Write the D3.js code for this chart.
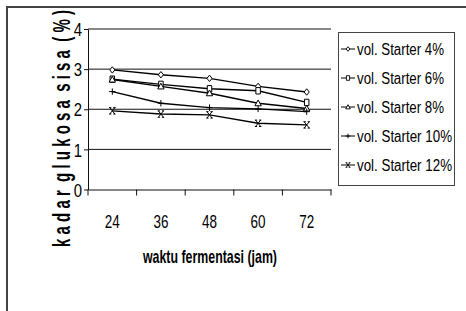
<!DOCTYPE html>
<html><head><meta charset="utf-8">
<script src="https://cdnjs.cloudflare.com/ajax/libs/d3/7.8.5/d3.min.js"></script>
<style>body{margin:0;background:#fff}svg{display:block}text{font-family:"Liberation Sans",Arial,sans-serif;fill:#000}</style>
</head><body><svg id="c" width="466" height="311"></svg>
<script>
const categories = ["24","36","48","60","72"];
const seriesNames = ["vol. Starter 4%","vol. Starter 6%","vol. Starter 8%","vol. Starter 10%","vol. Starter 12%"];
const s4  = [2.98, 2.86, 2.77, 2.57, 2.43];
const s6  = [2.75, 2.62, 2.51, 2.46, 2.17];
const s8  = [2.74, 2.57, 2.40, 2.15, 2.02];
const s10 = [2.44, 2.15, 2.04, 2.01, 1.94];
const s12 = [1.96, 1.88, 1.86, 1.65, 1.61];
const yTicks = [0,1,2,3,4];
const markers = ["diamond","square","triangle","plus","cross"];
const allSeries = [s4, s6, s8, s10, s12];

const svg = d3.select("#c");
// outer frame
svg.append("rect").attr("x",7).attr("y",7).attr("width",480).attr("height",330)
  .attr("fill","none").attr("stroke","#444").attr("stroke-width",2);

const x = d3.scaleBand().domain(categories).range([88,331]);
const y = d3.scaleLinear().domain([0,4]).range([189.5,29]);

// gridlines
svg.append("g").selectAll("line").data(yTicks.filter(d=>d>0)).join("line")
  .attr("x1",88).attr("x2",331).attr("y1",d=>y(d)).attr("y2",d=>y(d))
  .attr("stroke","#111").attr("stroke-width",1);

// y axis
const ya = svg.append("g").attr("transform","translate(88,0)")
  .call(d3.axisLeft(y).tickValues(yTicks).tickFormat(d3.format("d")).tickSize(4).tickPadding(2).tickSizeOuter(0));
ya.select(".domain").attr("stroke","#111");
ya.selectAll(".tick line").attr("stroke","#111");
ya.selectAll(".tick text").attr("font-size",18.5).attr("font-family","Liberation Sans")
  .attr("textLength",8.3).attr("lengthAdjust","spacingAndGlyphs").attr("dy","0.36em");

// x axis
const xa = svg.append("g").attr("transform",`translate(0,${y(0)})`)
  .call(d3.axisBottom(x).tickSize(0).tickSizeOuter(0).tickPadding(25));
xa.select(".domain").attr("stroke","#111");
xa.selectAll(".tick text").attr("font-size",18.5).attr("font-family","Liberation Sans")
  .attr("textLength",15).attr("lengthAdjust","spacingAndGlyphs");
const edges = categories.map(c=>x(c)).concat([x.range()[1]]);
svg.append("g").selectAll("line").data(edges).join("line")
  .attr("x1",d=>d).attr("x2",d=>d).attr("y1",y(0)).attr("y2",y(0)+6)
  .attr("stroke","#111");

// titles
svg.append("text").attr("x",210).attr("y",263).attr("text-anchor","middle")
  .attr("font-size",19).attr("font-weight","bold")
  .attr("textLength",134).attr("lengthAdjust","spacingAndGlyphs")
  .text("waktu fermentasi (jam)");
svg.append("text").attr("transform","translate(70,128.5) rotate(-90)").attr("text-anchor","middle")
  .attr("font-size",23).attr("font-weight","bold").style("white-space","pre")
  .attr("textLength",237).attr("lengthAdjust","spacingAndGlyphs")
  .text("k a d a r  g l u k o s a  s i s a  ( % )");

function markerPath(type, s){
  switch(type){
    case "diamond": return `M0,${-s}L${s*0.8},0L0,${s}L${-s*0.8},0Z`;
    case "square": return `M${-s*0.7},${-s}H${s*0.7}V${s}H${-s*0.7}Z`;
    case "triangle": return `M0,${-s}L${s},${s*0.8}H${-s}Z`;
    case "plus": return `M${-s},0H${s}M0,${-s}V${s}`;
    case "cross": return `M${-s*0.8},${-s}L${s*0.8},${s}M${s*0.8},${-s}L${-s*0.8},${s}M${-s},${-s}H${-s*0.3}M${s*0.3},${-s}H${s}M${-s},${s}H${-s*0.3}M${s*0.3},${s}H${s}`;
  }
}

const line = d3.line().x((d,i)=>x(categories[i])+x.bandwidth()/2).y(d=>y(d));
allSeries.forEach((vals,k)=>{
  const g = svg.append("g");
  g.append("path").datum(vals).attr("d",line).attr("fill","none").attr("stroke","#000").attr("stroke-width",1.4);
  g.selectAll("path.m").data(vals).join("path").attr("class","m")
    .attr("transform",(d,i)=>`translate(${x(categories[i])+x.bandwidth()/2},${y(d)})`)
    .attr("d",markerPath(markers[k],3.2))
    .attr("fill",(markers[k]==="plus"||markers[k]==="cross")?"none":"#fff")
    .attr("stroke","#000").attr("stroke-width",1);
});

// legend
const lg = svg.append("g");
lg.append("rect").attr("x",338.5).attr("y",32.5).attr("width",116).attr("height",153)
  .attr("fill","#fff").attr("stroke","#444").attr("stroke-width",1);
const rowY = d3.scalePoint().domain(seriesNames).range([49,165]);
seriesNames.forEach((n,k)=>{
  const cy = rowY(n);
  lg.append("line").attr("x1",341).attr("x2",355).attr("y1",cy).attr("y2",cy).attr("stroke","#000").attr("stroke-width",1);
  lg.append("path").attr("transform",`translate(348,${cy})`).attr("d",markerPath(markers[k],2.3))
    .attr("fill",(markers[k]==="plus"||markers[k]==="cross")?"none":"#fff").attr("stroke","#000").attr("stroke-width",0.9);
  lg.append("text").attr("x",357).attr("y",cy+6).attr("font-size",16)
    .attr("textLength",n.length>15?95:87).attr("lengthAdjust","spacingAndGlyphs").text(n);
});
</script></body></html>
